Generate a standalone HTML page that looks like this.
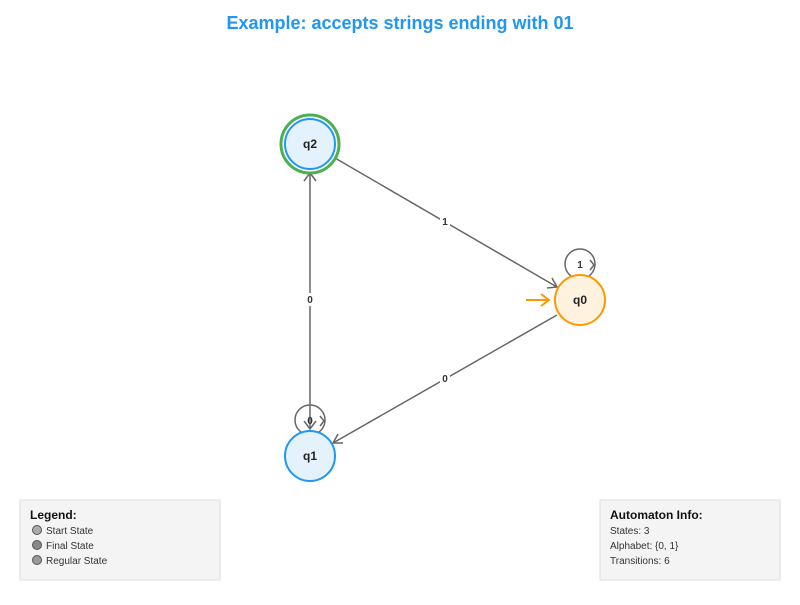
<!DOCTYPE html>
<html><head><style>
body{margin:0;width:800px;height:600px;background:#fff;font-family:"Liberation Sans",sans-serif;}
</style></head><body>
<svg width="800" height="600" xmlns="http://www.w3.org/2000/svg" font-family="Liberation Sans, sans-serif">
<rect width="800" height="600" fill="#fff"/>
<text x="400" y="29" text-anchor="middle" font-size="18" font-weight="bold" fill="#2196f3">Example: accepts strings ending with 01</text>
<g stroke="#666" stroke-width="1.5" fill="none">
<line x1="310" y1="173" x2="310" y2="429"/>
<polyline points="304,181 310,173 316,181"/>
<polyline points="304,421 310,429 316,421"/>
<line x1="335" y1="158" x2="557" y2="287"/>
<polyline points="547,288 557,287 552,278"/>
<line x1="557" y1="315" x2="333" y2="443"/>
<polyline points="338,434 333,443 343,443"/>
<circle cx="580" cy="264" r="15"/>
<polyline points="590,260 594,265 590,270"/>
<circle cx="310" cy="420" r="15"/>
<polyline points="320,416 324,421 320,426"/>
</g>
<g font-size="10" font-weight="bold" fill="#333" text-anchor="middle">
<rect x="305" y="293" width="10" height="13" fill="#fff"/><text x="310" y="303">0</text>
<rect x="440" y="215" width="10" height="13" fill="#fff"/><text x="445" y="225">1</text>
<rect x="440" y="372" width="10" height="13" fill="#fff"/><text x="445" y="382">0</text>
<text x="580" y="268">1</text>
<text x="310" y="424">0</text>
</g>
<line x1="526" y1="300" x2="549" y2="300" stroke="#ff9800" stroke-width="2"/>
<polyline points="541,294 549,300 541,306" stroke="#ff9800" stroke-width="2" fill="none"/>
<circle cx="310" cy="144" r="29" fill="none" stroke="#4caf50" stroke-width="3"/>
<circle cx="310" cy="144" r="25" fill="#e3f2fd" stroke="#2196f3" stroke-width="2"/>
<circle cx="310" cy="456" r="25" fill="#e3f2fd" stroke="#2196f3" stroke-width="2"/>
<circle cx="580" cy="300" r="25" fill="#fff3e0" stroke="#ff9800" stroke-width="2"/>
<g font-size="12" font-weight="bold" fill="#222" text-anchor="middle">
<text x="310" y="148">q2</text><text x="310" y="460">q1</text><text x="580" y="304">q0</text>
</g>
<rect x="20" y="500" width="200" height="80" fill="#f4f4f4" stroke="#ddd"/>
<text x="30" y="519" font-size="12" font-weight="bold" fill="#111">Legend:</text>
<g fill="#aaa" stroke="#555" stroke-width="1"><circle cx="37" cy="530" r="4.5"/><circle cx="37" cy="545" r="4.5" fill="#888"/><circle cx="37" cy="560" r="4.5" fill="#999"/></g>
<g font-size="10" fill="#333"><text x="46" y="534">Start State</text><text x="46" y="549">Final State</text><text x="46" y="564">Regular State</text></g>
<rect x="600" y="500" width="180" height="80" fill="#f4f4f4" stroke="#ddd"/>
<text x="610" y="519" font-size="12" font-weight="bold" fill="#111">Automaton Info:</text>
<g font-size="10" fill="#333"><text x="610" y="534">States: 3</text><text x="610" y="549">Alphabet: {0, 1}</text><text x="610" y="564">Transitions: 6</text></g>
</svg>
</body></html>
